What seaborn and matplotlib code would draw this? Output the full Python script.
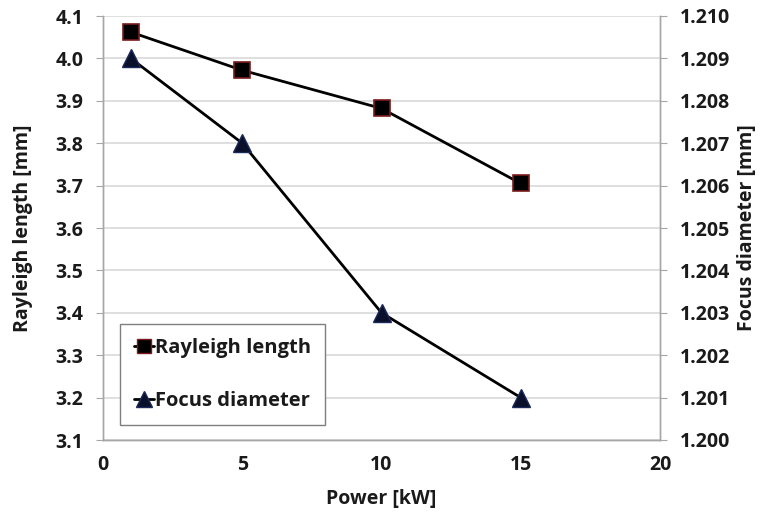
import matplotlib
matplotlib.use("Agg")
import matplotlib.pyplot as plt
import seaborn as sns
import pandas as pd
from matplotlib.lines import Line2D

power = [1, 5, 10, 15]
rayleigh = [4.062, 3.972, 3.882, 3.705]
focus = [1.209, 1.207, 1.203, 1.201]

sns.set_style("white")
FONT = ['Open Sans', 'DejaVu Sans']
plt.rcParams['font.family'] = FONT
plt.rcParams['font.weight'] = 'bold'
TXT = "#1a1a1a"

fig = plt.figure(figsize=(7.63, 5.17), dpi=100)
ax = fig.add_axes([103 / 763, 1 - 440 / 517, (660 - 103) / 763, (440 - 16) / 517])
ax2 = ax.twinx()

df1 = pd.DataFrame({"Power": power, "Rayleigh": rayleigh})
df2 = pd.DataFrame({"Power": power, "Focus": focus})

sns.lineplot(data=df1, x="Power", y="Rayleigh", ax=ax, color="black", lw=2,
             marker="s", markersize=12, markerfacecolor="black",
             markeredgecolor="#7a1c1c", markeredgewidth=1.2, zorder=5)
sns.lineplot(data=df2, x="Power", y="Focus", ax=ax2, color="black", lw=2,
             marker="^", markersize=13, markerfacecolor="#0a0f2a",
             markeredgecolor="#1a2a5a", markeredgewidth=1, zorder=5)

ax.set_xlim(0, 20)
ax.set_ylim(3.1, 4.1)
ax2.set_ylim(1.200, 1.210)
ax.set_xticks([0, 5, 10, 15, 20])
ax.set_yticks([3.1 + 0.1 * i for i in range(11)])
ax.set_yticklabels([f"{3.1 + 0.1 * i:.1f}" for i in range(11)])
ax2.set_yticks([1.200 + 0.001 * i for i in range(11)])
ax2.set_yticklabels([f"{1.200 + 0.001 * i:.3f}" for i in range(11)])

ax.grid(axis="y", color="#d9d9d9", lw=1.2)
ax.set_axisbelow(True)
for a in (ax, ax2):
    for s in a.spines.values():
        s.set_color("#a6a6a6")
        s.set_linewidth(1)
    a.spines["top"].set_visible(False)

ax.tick_params(axis="x", direction="out", length=5, color="#a6a6a6", labelsize=14,
               pad=6, labelcolor=TXT)
ax.tick_params(axis="y", direction="out", length=5, color="#a6a6a6", labelsize=14,
               pad=9, labelcolor=TXT)
ax2.tick_params(axis="y", direction="out", length=5, color="#a6a6a6", labelsize=14,
                pad=9, labelcolor=TXT)
for lab in ax.get_xticklabels() + ax.get_yticklabels() + ax2.get_yticklabels():
    lab.set_fontweight("bold")
    lab.set_family(FONT)

ax.set_xlabel("Power [kW]", fontsize=14, fontweight="bold", labelpad=10, color=TXT)
ax.set_ylabel("Rayleigh length [mm]", fontsize=14, fontweight="bold", labelpad=16, color=TXT)
ax2.set_ylabel("Focus diameter [mm]", fontsize=14, fontweight="bold", labelpad=5, color=TXT)

handles = [
    Line2D([], [], color="black", lw=2, marker="s", markersize=10,
           markerfacecolor="black", markeredgecolor="#7a1c1c"),
    Line2D([], [], color="black", lw=2, marker="^", markersize=11,
           markerfacecolor="#0a0f2a", markeredgecolor="#1a2a5a"),
]
leg = ax.legend(handles, ["Rayleigh length", "Focus diameter"],
                loc="lower left", bbox_to_anchor=(0.030, 0.035), borderaxespad=0,
                handlelength=1.0, handletextpad=0.05, labelspacing=1.65,
                borderpad=0.7, fancybox=False, framealpha=1,
                prop={"family": FONT, "weight": "bold", "size": 14.5})
for t in leg.get_texts():
    t.set_color(TXT)
leg.get_frame().set_edgecolor("#7f7f7f")
leg.get_frame().set_linewidth(1)
leg.set_zorder(10)

fig.savefig("out.png", dpi=100)
